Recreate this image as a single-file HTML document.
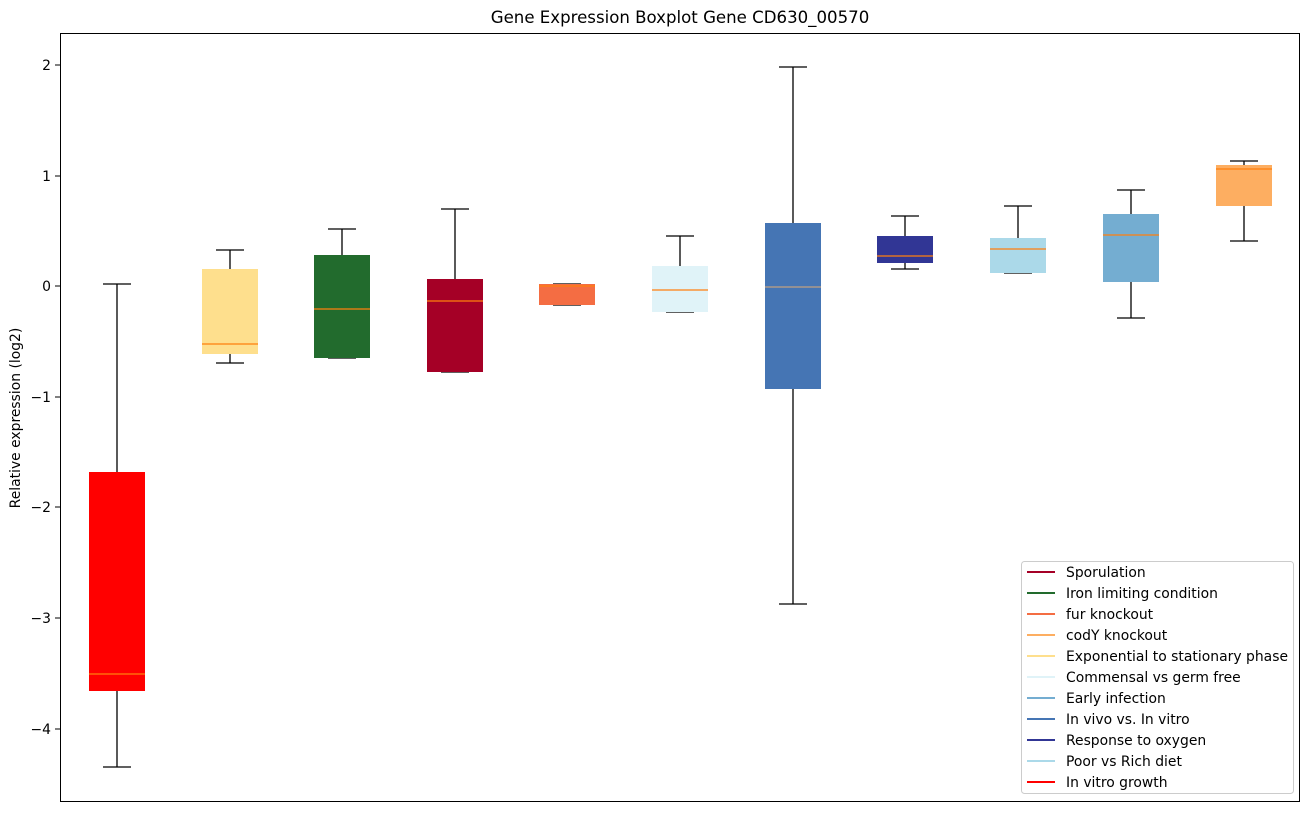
<!DOCTYPE html>
<html><head><style>body{margin:0;background:#fff}</style></head><body>
<svg width="1309" height="812" xmlns="http://www.w3.org/2000/svg" font-family="DejaVu Sans, Liberation Sans, sans-serif">
<rect width="1309" height="812" fill="#fff"/>
<text x="680" y="23" font-size="16.6" text-anchor="middle">Gene Expression Boxplot Gene CD630_00570</text>
<g stroke="#000" stroke-width="1">
<line x1="55" y1="65" x2="60" y2="65"/><line x1="55" y1="176" x2="60" y2="176"/><line x1="55" y1="286" x2="60" y2="286"/><line x1="55" y1="397" x2="60" y2="397"/><line x1="55" y1="507" x2="60" y2="507"/><line x1="55" y1="618" x2="60" y2="618"/><line x1="55" y1="729" x2="60" y2="729"/>
</g>
<g font-size="13.9" text-anchor="end">
<text x="51" y="70">2</text><text x="51" y="181">1</text><text x="51" y="291">0</text><text x="51" y="402">−1</text><text x="51" y="512">−2</text><text x="51" y="623">−3</text><text x="51" y="734">−4</text>
</g>
<text transform="translate(20,418) rotate(-90)" font-size="13.9" text-anchor="middle">Relative expression (log2)</text>
<g stroke-width="1.3">
<g><line x1="117" y1="284" x2="117" y2="767" stroke="#000"/><line x1="103" y1="284" x2="131" y2="284" stroke="#000"/><line x1="103" y1="767" x2="131" y2="767" stroke="#000"/><rect x="89" y="472" width="56" height="219" fill="#ff0000"/><line x1="89" y1="674" x2="145" y2="674" stroke="#ff7f0e"/></g>
<g><line x1="230" y1="250" x2="230" y2="363" stroke="#000"/><line x1="216" y1="250" x2="244" y2="250" stroke="#000"/><line x1="216" y1="363" x2="244" y2="363" stroke="#000"/><rect x="202" y="269" width="56" height="85" fill="#fedf8d"/><line x1="202" y1="344" x2="258" y2="344" stroke="#ff7f0e"/></g>
<g><line x1="342" y1="229" x2="342" y2="358" stroke="#000"/><line x1="328" y1="229" x2="356" y2="229" stroke="#000"/><line x1="328" y1="358" x2="356" y2="358" stroke="#000"/><rect x="314" y="255" width="56" height="103" fill="#226b2d"/><line x1="314" y1="309" x2="370" y2="309" stroke="#ff7f0e"/></g>
<g><line x1="455" y1="209" x2="455" y2="372" stroke="#000"/><line x1="441" y1="209" x2="469" y2="209" stroke="#000"/><line x1="441" y1="372" x2="469" y2="372" stroke="#000"/><rect x="427" y="279" width="56" height="93" fill="#a50026"/><line x1="427" y1="301" x2="483" y2="301" stroke="#ff7f0e"/></g>
<g><line x1="553" y1="284" x2="581" y2="284" stroke="#000"/><line x1="553" y1="305" x2="581" y2="305" stroke="#000"/><rect x="539" y="284" width="56" height="21" fill="#f46d43"/><line x1="539" y1="286" x2="595" y2="286" stroke="#ff7f0e"/></g>
<g><line x1="680" y1="236" x2="680" y2="312" stroke="#000"/><line x1="666" y1="236" x2="694" y2="236" stroke="#000"/><line x1="666" y1="312" x2="694" y2="312" stroke="#000"/><rect x="652" y="266" width="56" height="46" fill="#e0f3f8"/><line x1="652" y1="290" x2="708" y2="290" stroke="#ff7f0e"/></g>
<g><line x1="793" y1="67" x2="793" y2="604" stroke="#000"/><line x1="779" y1="67" x2="807" y2="67" stroke="#000"/><line x1="779" y1="604" x2="807" y2="604" stroke="#000"/><rect x="765" y="223" width="56" height="166" fill="#4575b4"/><line x1="765" y1="287" x2="821" y2="287" stroke="#c0a080"/></g>
<g><line x1="905" y1="216" x2="905" y2="269" stroke="#000"/><line x1="891" y1="216" x2="919" y2="216" stroke="#000"/><line x1="891" y1="269" x2="919" y2="269" stroke="#000"/><rect x="877" y="236" width="56" height="27" fill="#313695"/><line x1="877" y1="256" x2="933" y2="256" stroke="#ff7f0e"/></g>
<g><line x1="1018" y1="206" x2="1018" y2="273" stroke="#000"/><line x1="1004" y1="206" x2="1032" y2="206" stroke="#000"/><line x1="1004" y1="273" x2="1032" y2="273" stroke="#000"/><rect x="990" y="238" width="56" height="35" fill="#abd9e9"/><line x1="990" y1="249" x2="1046" y2="249" stroke="#ff7f0e"/></g>
<g><line x1="1131" y1="190" x2="1131" y2="318" stroke="#000"/><line x1="1117" y1="190" x2="1145" y2="190" stroke="#000"/><line x1="1117" y1="318" x2="1145" y2="318" stroke="#000"/><rect x="1103" y="214" width="56" height="68" fill="#74add1"/><line x1="1103" y1="235" x2="1159" y2="235" stroke="#ff7f0e"/></g>
<g><line x1="1244" y1="161" x2="1244" y2="241" stroke="#000"/><line x1="1230" y1="161" x2="1258" y2="161" stroke="#000"/><line x1="1230" y1="241" x2="1258" y2="241" stroke="#000"/><rect x="1216" y="165" width="56" height="41" fill="#fdae61"/><line x1="1216" y1="169" x2="1272" y2="169" stroke="#ff7f0e"/></g>
</g>
<rect x="60.5" y="33.5" width="1239" height="768" fill="none" stroke="#000" stroke-width="1"/>
<rect x="1021.5" y="561.5" width="272" height="232" rx="3" fill="#fff" fill-opacity="0.8" stroke="#ccc"/>
<g stroke-width="2">
<line x1="1027" y1="572" x2="1055" y2="572" stroke="#a50026"/>
<line x1="1027" y1="593" x2="1055" y2="593" stroke="#226b2d"/>
<line x1="1027" y1="614" x2="1055" y2="614" stroke="#f46d43"/>
<line x1="1027" y1="635" x2="1055" y2="635" stroke="#fdae61"/>
<line x1="1027" y1="656" x2="1055" y2="656" stroke="#fedf8d"/>
<line x1="1027" y1="677" x2="1055" y2="677" stroke="#e0f3f8"/>
<line x1="1027" y1="698" x2="1055" y2="698" stroke="#74add1"/>
<line x1="1027" y1="719" x2="1055" y2="719" stroke="#4575b4"/>
<line x1="1027" y1="740" x2="1055" y2="740" stroke="#313695"/>
<line x1="1027" y1="761" x2="1055" y2="761" stroke="#abd9e9"/>
<line x1="1027" y1="782" x2="1055" y2="782" stroke="#ff0000"/>
</g>
<g font-size="13.9">
<text x="1066" y="577">Sporulation</text>
<text x="1066" y="598">Iron limiting condition</text>
<text x="1066" y="619">fur knockout</text>
<text x="1066" y="640">codY knockout</text>
<text x="1066" y="661" textLength="222">Exponential to stationary phase</text>
<text x="1066" y="682">Commensal vs germ free</text>
<text x="1066" y="703">Early infection</text>
<text x="1066" y="724">In vivo vs. In vitro</text>
<text x="1066" y="745">Response to oxygen</text>
<text x="1066" y="766">Poor vs Rich diet</text>
<text x="1066" y="787">In vitro growth</text>
</g>
</svg>
</body></html>
